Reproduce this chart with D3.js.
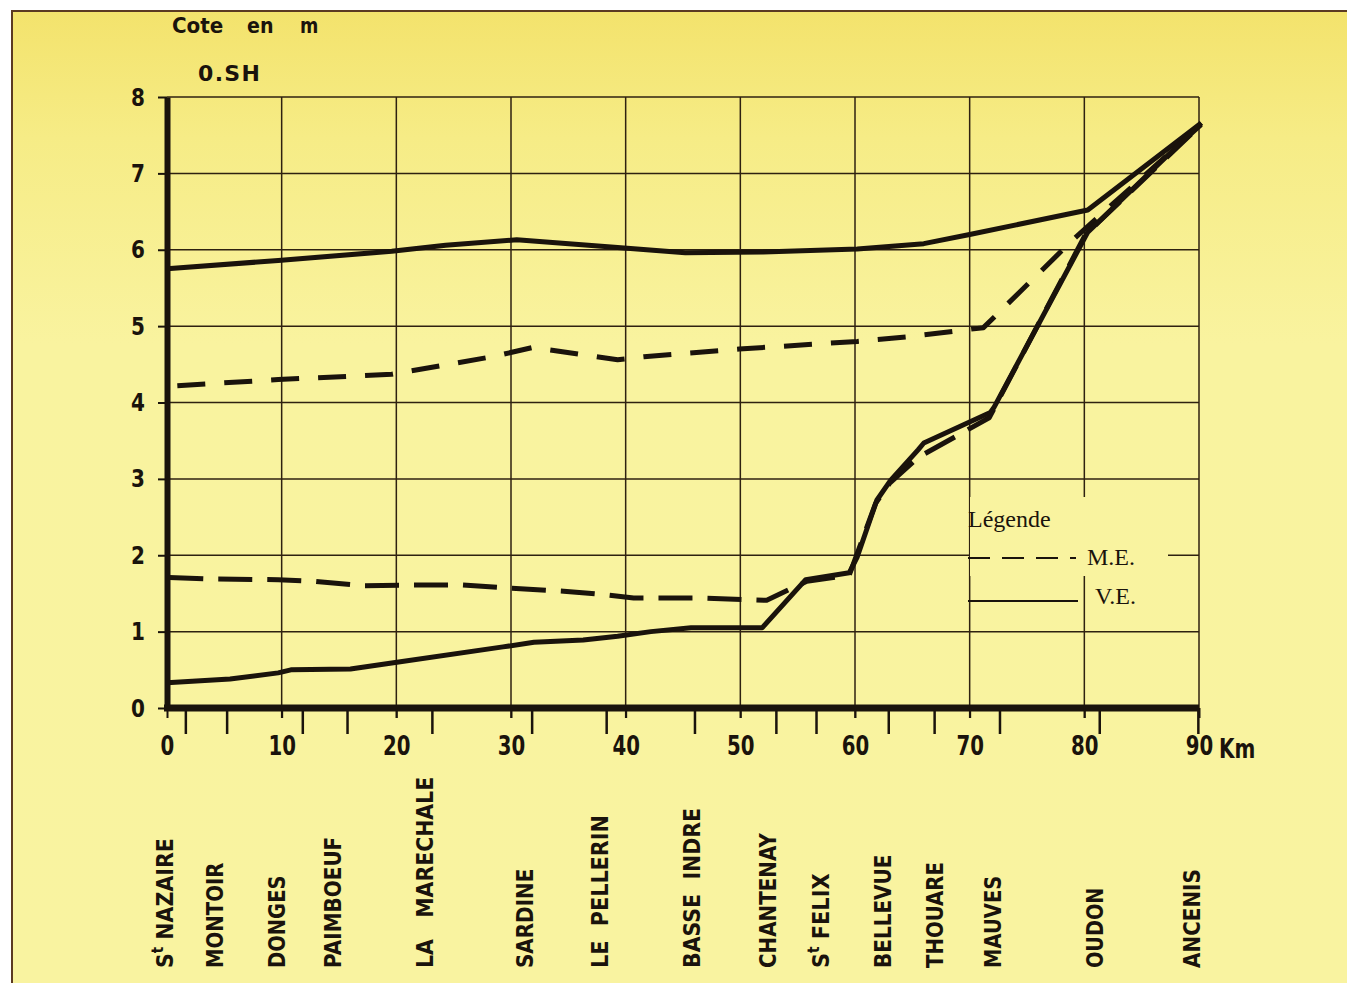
<!DOCTYPE html>
<html>
<head>
<meta charset="utf-8">
<script src="https://cdn.jsdelivr.net/npm/d3@7/dist/d3.min.js"></script>
<style>
  html, body { margin: 0; padding: 0; background: #ffffff; }
  svg { display: block; }
  .cond { font-family: "DejaVu Sans", sans-serif; font-weight: bold; }
  .serif { font-family: "Liberation Serif", "DejaVu Serif", serif; }
</style>
</head>
<body>
<svg id="chart" width="1359" height="983"></svg>
<script>
// Water levels along the Loire estuary (cote en m, O.SH) against distance (km)
const yTicks = [0, 1, 2, 3, 4, 5, 6, 7, 8];
const xTicks = [0, 10, 20, 30, 40, 50, 60, 70, 80, 90];

// V.E. (vives-eaux) high water
const veHigh = [[0, 5.75], [9.7, 5.86], [19.6, 5.98], [24.3, 6.06], [30.5, 6.13], [39.3, 6.03],
  [45.2, 5.96], [52, 5.97], [60.2, 6.01], [66, 6.08], [70, 6.2], [80.3, 6.52], [90.2, 7.66]];
// M.E. (mortes-eaux) high water
const meHigh = [[0.9, 4.22], [9.7, 4.3], [19.6, 4.37], [28.4, 4.6], [31.9, 4.72], [39.3, 4.56],
  [41.6, 4.6], [49.9, 4.7], [60.2, 4.8], [64.6, 4.86], [71.2, 4.98], [79.0, 6.13], [90.2, 7.64]];
// M.E. (mortes-eaux) low water
const meLow = [[0.2, 1.71], [3.3, 1.69], [9.7, 1.68], [12.8, 1.66], [17.1, 1.6], [21.8, 1.61],
  [25.8, 1.61], [29.9, 1.57], [34.6, 1.53], [38.4, 1.48], [40.7, 1.44], [46.4, 1.44], [52.3, 1.41],
  [55.8, 1.66], [59.5, 1.74], [61.8, 2.68], [63, 2.94], [65.5, 3.28], [71.7, 3.8], [80.1, 6.2], [90.2, 7.64]];
// V.E. (vives-eaux) low water
const veLow = [[0, 0.33], [5.5, 0.38], [9.7, 0.46], [10.8, 0.5], [16, 0.51], [19.6, 0.59],
  [29.3, 0.8], [32, 0.86], [36.3, 0.89], [39.3, 0.94], [42.2, 1.0], [45.7, 1.05], [51.9, 1.05],
  [55.7, 1.68], [59.5, 1.77], [60.2, 1.98], [61.9, 2.72], [63.1, 2.98], [65.5, 3.38], [66, 3.47],
  [71.8, 3.87], [72.1, 3.93], [80.3, 6.23], [90.2, 7.66]];

// Stations: names, tick positions and label positions along the river (km)
const stationNames = ["NAZAIRE", "MONTOIR", "DONGES", "PAIMBOEUF", "LA   MARECHALE", "SARDINE",
  "LE  PELLERIN", "BASSE  INDRE", "CHANTENAY", "FELIX", "BELLEVUE", "THOUARE", "MAUVES", "OUDON", "ANCENIS"];
const stationSaint = [true, false, false, false, false, false, false, false, false, true, false, false, false, false, false];
const stationTickKm = [1.6, 5.2, 11.8, 15.7, 23.1, 31.8, 38.3, 46.0, 53.1, 56.6, 62.9, 66.9, 72.6, 81.3, 89.9];
const stationLabelKm = [-0.2, 4.2, 9.6, 14.5, 22.5, 31.2, 37.8, 45.8, 52.4, 57.0, 62.4, 67.0, 72.0, 80.9, 89.4];

const series = [
  { name: "veHigh", data: veHigh, dash: null },
  { name: "meHigh", data: meHigh, dash: "28,19" },
  { name: "meLow", data: meLow, dash: "34,15" },
  { name: "veLow", data: veLow, dash: null }
];

const svg = d3.select("#chart");
const H = 983;

// squeeze bold sans text into a condensed face
function condense(sel, factor, extraPerChar) {
  sel.each(function () {
    const w = this.getComputedTextLength();
    const n = this.textContent.length;
    d3.select(this).attr("textLength", w * factor + (n - 1) * (extraPerChar || 0))
      .attr("lengthAdjust", "spacingAndGlyphs");
  });
}

// paper background with a warmer band at the top
const defs = svg.append("defs");
const grad = defs.append("linearGradient").attr("id", "paper")
  .attr("gradientUnits", "userSpaceOnUse").attr("x1", 0).attr("y1", 0).attr("x2", 0).attr("y2", H);
grad.append("stop").attr("offset", "0").attr("stop-color", "#f3e26a");
grad.append("stop").attr("offset", "0.14").attr("stop-color", "#f6ec86");
grad.append("stop").attr("offset", "0.35").attr("stop-color", "#f9f39f");
grad.append("stop").attr("offset", "1").attr("stop-color", "#f9f3a0");

svg.append("rect").attr("x", 12).attr("y", 10).attr("width", 1335).attr("height", H - 10).attr("fill", "url(#paper)");
svg.append("line").attr("x1", 12).attr("x2", 1347).attr("y1", 11).attr("y2", 11).attr("stroke", "#5b3a22").attr("stroke-width", 2);
svg.append("line").attr("x1", 12).attr("x2", 12).attr("y1", 10).attr("y2", H).attr("stroke", "#5b3a22").attr("stroke-width", 2);

const x = d3.scaleLinear().domain([0, 90]).range([167, 1199]);
const y = d3.scaleLinear().domain([0, 8]).range([708, 97]);

const ink = "#1a130c";
const gridInk = "#2e2110";

// grid
const grid = svg.append("g");
grid.selectAll("line.v").data(xTicks.filter(d => d > 0)).join("line")
  .attr("x1", d => x(d)).attr("x2", d => x(d))
  .attr("y1", y(8)).attr("y2", y(0) + 10)
  .attr("stroke", gridInk).attr("stroke-width", 1.5);
grid.selectAll("line.h").data(yTicks.filter(d => d > 0)).join("line")
  .attr("x1", x(0)).attr("x2", x(90))
  .attr("y1", d => y(d)).attr("y2", d => y(d))
  .attr("stroke", gridInk).attr("stroke-width", 1.5);

// legend panel interrupts the grid
svg.append("rect").attr("x", 970).attr("y", 497).attr("width", 198).attr("height", 79).attr("fill", "url(#paper)");

// data lines
const line = d3.line().x(d => x(d[0])).y(d => y(d[1]));
svg.append("g").selectAll("path").data(series).join("path")
  .attr("d", d => line(d.data))
  .attr("fill", "none").attr("stroke", ink)
  .attr("stroke-width", 5).attr("stroke-linejoin", "round")
  .attr("stroke-dasharray", d => d.dash);

// left axis
const yAxis = svg.append("g").attr("transform", `translate(${x(0)},0)`)
  .call(d3.axisLeft(y).tickValues(yTicks).tickSize(9).tickSizeOuter(0).tickPadding(13));
yAxis.select(".domain").attr("stroke", ink).attr("stroke-width", 6);
yAxis.selectAll(".tick line").attr("stroke", ink).attr("stroke-width", 2);
yAxis.selectAll(".tick text").attr("class", "cond").attr("font-size", 25).attr("fill", ink).call(condense, 0.8);

// station ticks under the river axis
const sAxis = svg.append("g").attr("transform", `translate(0,${y(0)})`)
  .call(d3.axisBottom(x).tickValues(stationTickKm).tickSize(26).tickSizeOuter(0).tickFormat(""));
sAxis.select(".domain").remove();
sAxis.selectAll(".tick line").attr("stroke", ink).attr("stroke-width", 2.5);

// km axis
const xAxis = svg.append("g").attr("transform", `translate(0,${y(0)})`)
  .call(d3.axisBottom(x).tickValues(xTicks).tickSize(10).tickSizeOuter(0).tickPadding(19));
xAxis.select(".domain").attr("stroke", ink).attr("stroke-width", 7)
  .attr("d", `M${x(0) - 3},0H${x(90)}`);
xAxis.selectAll(".tick line").attr("stroke", ink).attr("stroke-width", 2);
xAxis.selectAll(".tick text").attr("class", "cond").attr("font-size", 26).attr("fill", ink).call(condense, 0.76);
svg.append("text").attr("class", "cond").attr("x", x(90) + 20).attr("y", 758)
  .attr("font-size", 27).attr("fill", ink).text("Km").call(condense, 0.74);

// axis title
const title = [["Cote", 172], ["en", 247], ["m", 300]];
svg.append("g").selectAll("text").data(title).join("text")
  .attr("class", "cond").attr("x", d => d[1]).attr("y", 33)
  .attr("font-size", 22).attr("fill", ink).text(d => d[0]).call(condense, 0.8, 2);
svg.append("text").attr("class", "cond").attr("x", 198).attr("y", 81)
  .attr("font-size", 22).attr("fill", ink).text("0.SH")
  .attr("textLength", 62).attr("lengthAdjust", "spacing");

// station labels, read bottom to top
const labels = svg.append("g").selectAll("text").data(stationNames).join("text")
  .attr("class", "cond").attr("font-size", 23).attr("fill", ink)
  .attr("xml:space", "preserve")
  .attr("transform", (d, i) => `translate(${x(stationLabelKm[i]) + 8},968) rotate(-90)`);
labels.each(function (d, i) {
  const t = d3.select(this);
  if (stationSaint[i]) {
    t.append("tspan").text("S");
    t.append("tspan").attr("font-size", 15).attr("dy", -10).text("t");
    t.append("tspan").attr("dy", 10).text(" " + d);
  } else {
    t.text(d);
  }
});
labels.call(condense, 0.72, 2.8);

// legend
const lg = svg.append("g");
lg.append("text").attr("class", "serif").attr("x", 968).attr("y", 527).attr("font-size", 24).attr("fill", ink).text("Légende");
lg.append("line").attr("x1", 968).attr("x2", 1076).attr("y1", 558).attr("y2", 558)
  .attr("stroke", ink).attr("stroke-width", 1.8).attr("stroke-dasharray", "22,12");
lg.append("text").attr("class", "serif").attr("x", 1087).attr("y", 565).attr("font-size", 24).attr("fill", ink).text("M.E.");
lg.append("line").attr("x1", 968).attr("x2", 1078).attr("y1", 601).attr("y2", 601)
  .attr("stroke", ink).attr("stroke-width", 2);
lg.append("text").attr("class", "serif").attr("x", 1095).attr("y", 604).attr("font-size", 24).attr("fill", ink).text("V.E.");
</script>
</body>
</html>
